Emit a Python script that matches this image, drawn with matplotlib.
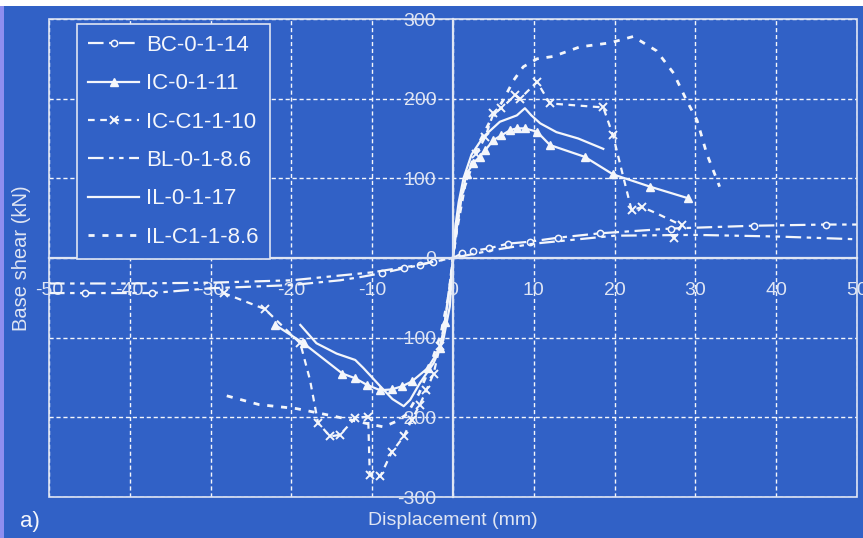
import matplotlib
matplotlib.use('Agg')
from matplotlib import pyplot as plt
from matplotlib.patches import Rectangle

# ---- data ----
x_ticks = [-50, -40, -30, -20, -10, 0, 10, 20, 30, 40, 50]
y_ticks = [-300, -200, -100, 0, 100, 200, 300]

bc_x = [-50, -45.5, -37.3, -30, -20, -14, -11.5, -8.8, -6.1, -4.1, -2.5, 0,
        1.1, 2.5, 4.4, 6.8, 9.5, 13, 18.2, 27, 37.2, 46.2, 50]
bc_y = [-44, -44, -44, -38, -34, -28, -24, -19, -13, -9, -4.6, 0,
        5.9, 9, 12, 18, 20.5, 25.5, 31, 37, 40.5, 42, 42]

ic_x = [-22, -18.5, -13.7, -12.1, -10.7, -9, -7.6, -6.3, -5.1, -3.1, -1.6, -1, -0.3, 0,
        0.3, 0.7, 1.1, 1.7, 2.5, 3.3, 4, 5, 6, 7.1, 7.9, 8.9, 10.4, 12, 16.3, 19.8, 24.4, 29.1]
ic_y = [-84, -107, -145, -151, -159, -166, -165, -161, -155, -138, -113, -80, -30, 0,
        25, 55, 80, 106, 119, 127, 135.5, 148, 154, 160.6, 162.7, 162.7, 158.5, 141.8, 127, 105, 89.5, 75]

icc_x = [-28.4, -23.3, -18.9, -17.7, -16.7, -15.2, -14, -12.1, -10.5, -10.3, -9, -7.6, -6.1,
         -5.1, -4.1, -3.3, -2.4, -1.6, -1, -0.5, 0, 0.5, 1.5, 2.9, 4, 5, 6, 7.7, 8.3, 10.4,
         12, 18.6, 19.8, 22.1, 23.4, 25.2, 28.3, 27.3]
icc_y = [-44, -64, -107, -153, -207, -224, -222, -201, -199, -272, -274, -244, -224,
         -203, -184, -166, -145, -110, -80, -40, 0, 35, 90, 131, 152, 181.6, 188, 204.5, 200, 221,
         194, 189, 154, 60, 64, 56, 41, 25]

bl_x = [-50, -40, -30, -20, -10, -5, 0, 5, 10, 20, 30, 40, 50]
bl_y = [-32, -32, -31, -28, -18, -10, 0, 10, 18, 28, 29, 27, 23.5]

il_x = [-18.9, -16.9, -14.4, -12.1, -11.1, -9, -7.5, -6.1, -5.3, -4.1, -2.4, -1.2, -0.4, 0,
        0.3, 0.7, 1.3, 2.3, 3.75, 5.8, 7.9, 8.9, 9.7, 10.8, 12.8, 15.5, 18.6]
il_y = [-84, -107, -120, -128, -138, -161, -177, -186, -178, -157, -132, -103, -61, 0,
        40, 70, 100, 130, 152, 171, 179, 188, 179, 169, 158, 150, 137]

ilc_x = [-28, -24, -19.4, -15, -11, -8.6, -7, -5.7, -4.2, -2.8, -1.5, -0.5, 0,
         0.5, 1, 2, 3, 4.5, 6.2, 7.5, 8.7, 10.4, 12.4, 15.7, 19.4, 22.3, 25.2, 27.3,
         28.9, 30.2, 31.4, 33]
ilc_y = [-173, -184, -189, -198, -207, -212, -205, -196, -170, -135, -95, -45, 0,
         40, 75, 110, 140, 170, 198, 223, 240, 250, 253, 265, 270, 278, 260, 232,
         198, 173, 131, 89.5]

labels = ['BC-0-1-14', 'IC-0-1-11', 'IC-C1-1-10', 'BL-0-1-8.6', 'IL-0-1-17', 'IL-C1-1-8.6']

BLUE = '#3161c6'
WHITE = '#f4f6fb'
LIGHT = '#dfe5f3'

plt.rcParams['font.family'] = ['Liberation Sans', 'DejaVu Sans']
plt.rcParams['axes.unicode_minus'] = False

fig = plt.figure(figsize=(8.63, 5.38), dpi=100, facecolor=BLUE)
# white strip on top and lavender strip on the left of the slide
fig.patches.append(Rectangle((0, 1 - 6 / 538), 1, 6 / 538, transform=fig.transFigure,
                             facecolor='white', edgecolor='none'))
fig.patches.append(Rectangle((0, 0), 4 / 863, 1 - 6 / 538, transform=fig.transFigure,
                             facecolor='#8e8ef0', edgecolor='none'))

ax = fig.add_axes([49 / 863, 41 / 538, 808 / 863, 478 / 538])
ax.set_facecolor(BLUE)

ax.plot(bc_x, bc_y, color=WHITE, lw=1.6, ls=(0, (7, 2.5, 2, 2.5)), marker='o', ms=4.5,
        mfc=BLUE, mec=WHITE, mew=1.1, markevery=[1, 2, 7, 8, 9, 10, 12, 13, 14, 15, 16, 17, 18, 19, 20, 21],
        label=labels[0])
ax.plot(ic_x, ic_y, color=WHITE, lw=1.6, marker='^', ms=5.5, mfc=WHITE, mec=WHITE,
        markevery=[0, 1, 2, 3, 4, 5, 6, 7, 8, 9, 10, 11, 17, 18, 19, 20, 21, 22, 23, 24, 25, 26, 27, 28, 29, 30, 31],
        label=labels[1])
ax.plot(icc_x, icc_y, color=WHITE, lw=1.6, ls=(0, (3, 2.5)), marker='x', ms=6, mew=1.4,
        markevery=[0, 1, 2, 4, 5, 6, 7, 8, 9, 10, 11, 12, 13, 14, 15, 16, 17, 23, 24, 25, 26, 27, 28, 29, 30, 31, 32, 33, 34, 36, 37],
        label=labels[2])
ax.plot(bl_x, bl_y, color=WHITE, lw=1.6, ls=(0, (7, 2.5, 2, 2.5, 2, 2.5)), label=labels[3])
ax.plot(il_x, il_y, color=WHITE, lw=1.6, label=labels[4])
ax.plot(ilc_x, ilc_y, color=WHITE, lw=2.0, ls=(0, (2.2, 2.8)), label=labels[5])

ax.set_xlim(-50, 50)
ax.set_ylim(-300, 300)
ax.set_xticks(x_ticks)
ax.set_yticks(y_ticks)
ax.grid(True, color=WHITE, lw=1.0, ls=(0, (3, 2)))
ax.set_axisbelow(True)

for side in ['top', 'right']:
    ax.spines[side].set_visible(False)
ax.spines['left'].set_position(('data', 0))
ax.spines['bottom'].set_position(('data', 0))
ax.spines['left'].set_color(LIGHT)
ax.spines['bottom'].set_color(LIGHT)
ax.spines['left'].set_linewidth(1.6)
ax.spines['bottom'].set_linewidth(1.6)
ax.add_patch(Rectangle((0, 0), 1, 1, transform=ax.transAxes, fill=False,
                       edgecolor=LIGHT, lw=1.2, clip_on=False, zorder=5))

ax.tick_params(axis='x', length=0, pad=17, labelsize=14, labelcolor=LIGHT)
ax.tick_params(axis='y', length=0, pad=12, labelsize=14, labelcolor=LIGHT)

ax.set_xlabel('Displacement (mm)', fontsize=14, color=LIGHT)
ax.set_ylabel('Base shear (kN)', fontsize=14.5, color=LIGHT)
ax.xaxis.set_label_coords(0.5, -0.031)
ax.yaxis.set_label_coords(-0.022, 0.5)

leg = ax.legend(loc='upper left', bbox_to_anchor=(77 / 863, 1 - 24 / 538), bbox_transform=fig.transFigure,
                fontsize=16, frameon=True, fancybox=False, facecolor=BLUE, edgecolor=LIGHT,
                framealpha=1, handlelength=2.3, handletextpad=0.3, labelspacing=0.78,
                borderpad=0.5, borderaxespad=0)
leg.get_frame().set_linewidth(1.2)
for t in leg.get_texts():
    t.set_color(WHITE)

fig.text(20 / 863, 1 - 522 / 538, 'a)', fontsize=16, color=WHITE, va='center', ha='left')

fig.savefig('out.png', dpi=100, facecolor=fig.get_facecolor())
